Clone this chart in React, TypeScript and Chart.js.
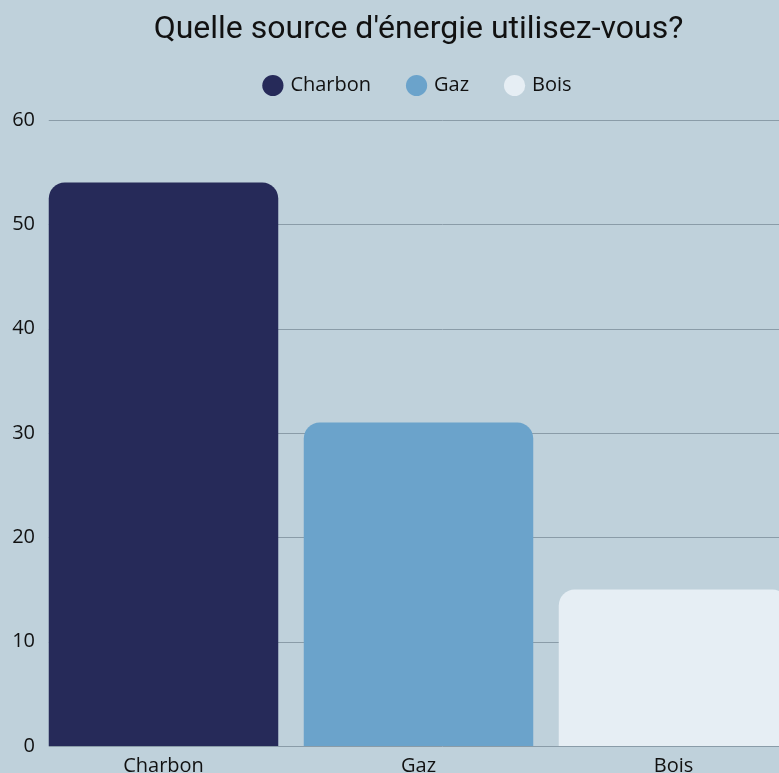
import React, { useEffect, useRef } from "react";
import { Chart, registerables } from "chart.js";

Chart.register(...registerables);

const TITLE = "Quelle source d'énergie utilisez-vous?";
const categories = ["Charbon", "Gaz", "Bois"];
const values = [54, 31, 15];
const barColors = ["#262a59", "#6ba3cb", "#e6eef4"];
const yTicks = [0, 10, 20, 30, 40, 50, 60];

const BG = "#bfd1db";
const GRID = "#8a9ca8";
const TITLE_FONT = "Roboto";
const FONT = "Open Sans";

const gridPlugin = {
  id: "offsetGrid",
  beforeDatasetsDraw(chart: any) {
    const { ctx, scales } = chart;
    const y = scales.y;
    const x = scales.x;
    const left = x.getPixelForValue(0) - (x.getPixelForValue(1) - x.getPixelForValue(0)) * 0.45;
    ctx.save();
    ctx.strokeStyle = GRID;
    ctx.lineWidth = 1;
    yTicks.forEach((v) => {
      const py = Math.round(y.getPixelForValue(v)) + 0.5;
      ctx.beginPath();
      ctx.moveTo(left, py);
      ctx.lineTo(chart.width, py);
      ctx.stroke();
    });
    ctx.restore();
  },
};

export default function App() {
  const ref = useRef<HTMLCanvasElement | null>(null);
  useEffect(() => {
    if (!ref.current) return;
    const chart = new Chart(ref.current, {
      type: "bar",
      data: {
        labels: categories,
        datasets: [
          {
            data: values,
            backgroundColor: barColors,
            borderRadius: { topLeft: 16, topRight: 16, bottomLeft: 0, bottomRight: 0 },
            borderSkipped: false,
            barPercentage: 0.9,
            categoryPercentage: 1,
          },
        ],
      },
      options: {
        responsive: false,
        animation: false,
        layout: { padding: { left: 0, right: 35, top: 0, bottom: 0 } },
        plugins: {
          title: {
            display: true,
            text: TITLE,
            color: "#111111",
            fullSize: false,
            font: { family: TITLE_FONT, size: 32, weight: "normal", lineHeight: 1 },
            padding: { top: 14, bottom: -8.5 },
          },
          subtitle: {
            display: true,
            text: "",
            fullSize: false,
            weight: 500,
            font: { size: 1, lineHeight: 1 },
            padding: { top: 13.5, bottom: 0 },
          },
          legend: {
            display: true,
            fullSize: false,
            labels: {
              usePointStyle: true,
              pointStyle: "circle",
              boxWidth: 15,
              boxHeight: 15,
              padding: 38,
              color: "#111111",
              font: { family: FONT, size: 20 },
              generateLabels: () =>
                categories.map((c, i) => ({
                  text: c,
                  fillStyle: barColors[i],
                  strokeStyle: barColors[i],
                  lineWidth: 0,
                  pointStyle: "circle",
                  hidden: false,
                  index: i,
                  datasetIndex: 0,
                  fontColor: "#111111",
                })),
            },
          },
          tooltip: { enabled: false },
        },
        scales: {
          x: {
            grid: { display: false, drawTicks: false },
            border: { display: false },
            ticks: { color: "#111111", font: { family: FONT, size: 20 }, padding: 8 },
            afterFit: (s: any) => {
              s.height = 44;
            },
          },
          y: {
            min: 0,
            max: 60,
            afterBuildTicks: (s: any) => {
              s.ticks = yTicks.map((v) => ({ value: v }));
            },
            grid: { display: false, drawTicks: false },
            border: { display: false },
            ticks: { color: "#111111", font: { family: FONT, size: 20 }, padding: 1 },
            afterFit: (s: any) => {
              s.width = 36;
            },
          },
        },
      },
      plugins: [gridPlugin],
    });
    return () => chart.destroy();
  }, []);
  return (
    <div
      style={{
        position: "fixed",
        left: 0,
        top: 0,
        width: 779,
        height: 773,
        overflow: "hidden",
        background: BG,
      }}
    >
      <canvas ref={ref} width={836} height={790} style={{ display: "block" }} />
    </div>
  );
}
